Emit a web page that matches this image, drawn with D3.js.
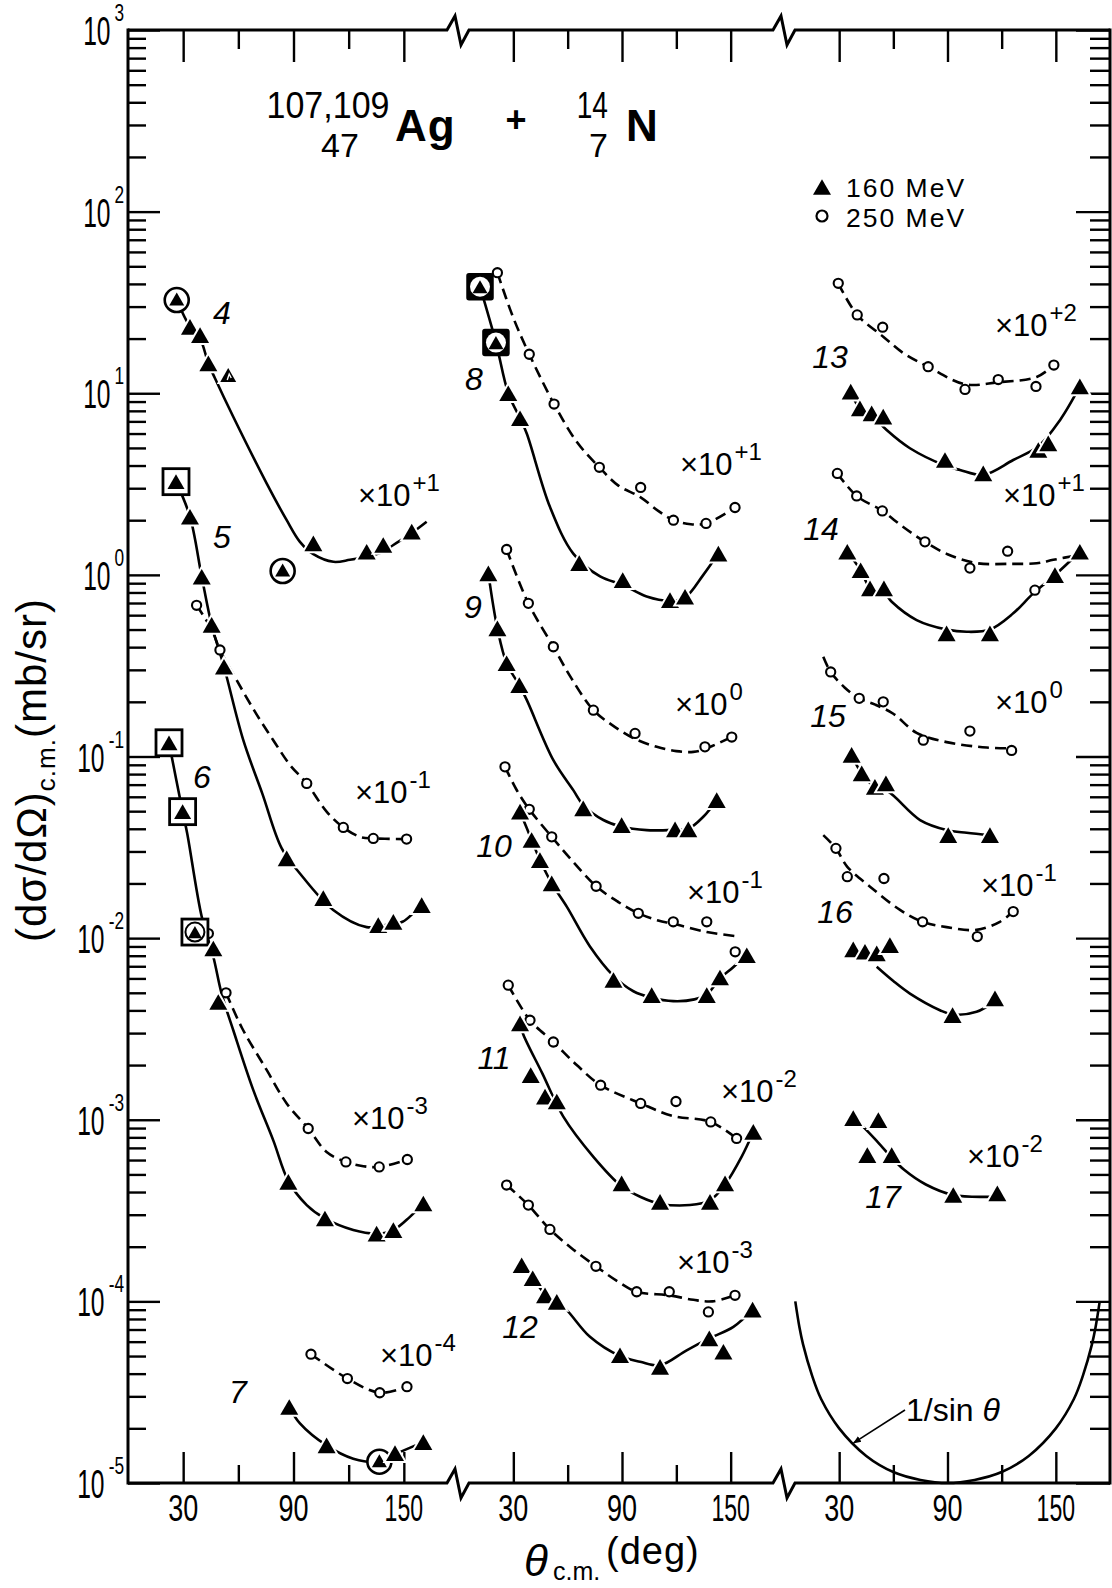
<!DOCTYPE html>
<html>
<head>
<meta charset="utf-8">
<script src="https://cdn.jsdelivr.net/npm/d3@7/dist/d3.min.js"></script>
<style>
  body { margin: 0; background: #fff; }
  svg { display: block; }
</style>
</head>
<body>
<div id="chart"></div>
<script>
// ---------- data (angles in deg c.m., cross sections in mb/sr, already scaled) ----------
const angleMajor = [30, 90, 150];
const angleMinor = [60, 120];
const yExps = [-5, -4, -3, -2, -1, 0, 1, 2, 3];
const yExpLabels = ["-5", "-4", "-3", "-2", "-1", "0", "1", "2", "3"];
const curveIds = [4, 5, 6, 7, 8, 9, 10, 11, 12, 13, 14, 15, 16, 17];
const curvePanel = [0, 0, 0, 0, 1, 1, 1, 1, 1, 2, 2, 2, 2, 2];
const curveExp = ["+1", "-1", "-3", "-4", "+1", "0", "-1", "-2", "-3", "+2", "+1", "0", "-1", "-2"];
const legendLabels = ["160 MeV", "250 MeV"];

// points: [theta, value, mark]  mark: c = circled, b = boxed, bc = boxed+circled, bf = heavy box, h = hatched
const c4_160 = [[26.5, 32.6, "c"], [33.7, 23.2], [39.2, 20.9], [43.7, 14.6], [54.5, 12.6, "h"], [84.1, 1.05, "c"], [100.8, 1.49], [129.8, 1.34], [138.8, 1.46], [154.3, 1.73]];
const c4_fit160 = [[26.5, 32.6], [33.7, 23.2], [39.2, 20], [43.7, 14.6], [47.3, 12.1], [57.3, 7.4], [75.4, 3.19], [86.3, 2.0], [93.5, 1.52], [100.8, 1.3], [111.7, 1.18], [120.7, 1.21], [129.8, 1.26], [138.8, 1.34], [144.3, 1.46], [154.3, 1.7], [162.4, 1.96]];

const c5_160 = [[26.1, 3.26, "b"], [33.7, 2.09], [40.1, 0.976], [45.5, 0.53], [52.2, 0.312], [86.3, 0.0275], [106.2, 0.0166], [136.1, 0.0118], [144.3, 0.0123], [159.7, 0.0152]];
const c5_fit160 = [[26.1, 3.26], [33.7, 2.09], [40.1, 0.976], [45.5, 0.53], [52.2, 0.312], [62.7, 0.123], [73, 0.0627], [83.6, 0.0312], [93.5, 0.0227], [111.6, 0.0143], [129.8, 0.0115], [140, 0.0118], [149.3, 0.0123], [156, 0.014], [160, 0.0153]];
const c5_250 = [[37.3, 0.68], [50, 0.386], [97.2, 0.0711], [117.1, 0.0407], [133.4, 0.0354], [151.5, 0.0351]];
const c5_fit250 = [[37.3, 0.68], [45.5, 0.5], [50, 0.386], [59.1, 0.263], [70, 0.17], [79, 0.123], [88, 0.09], [97.2, 0.0711], [108, 0.0497], [117.1, 0.0407], [126.2, 0.0361], [133.4, 0.0354], [142, 0.0352], [151.5, 0.0351]];

const c6_160 = [[22.3, 0.119, "b"], [29.7, 0.0497, "b"], [36.4, 0.0108, "bc"], [46.4, 0.00877], [49.1, 0.00445], [87.2, 4.55e-4], [107.1, 2.86e-4], [135.2, 2.36e-4], [144.3, 2.47e-4], [160.6, 3.46e-4]];
const c6_fit160 = [[22.3, 0.119], [29.7, 0.0497], [32.2, 0.0377], [40.1, 0.0131], [46.4, 0.0079], [50.9, 0.00495], [57.3, 0.0031], [68.1, 0.00146], [79, 7.7e-4], [87.2, 4.6e-4], [97.2, 3.39e-4], [107.1, 2.86e-4], [122.5, 2.47e-4], [135.2, 2.36e-4], [144.3, 2.47e-4], [153.3, 2.92e-4], [160.6, 3.46e-4]];
const c6_250 = [[43.7, 0.0106], [53.3, 0.005], [98.0, 8.95e-4], [118.5, 5.86e-4], [136.6, 5.5e-4], [151.9, 6.04e-4]];
const c6_fit250 = [[53.3, 0.005], [62, 0.0032], [75.4, 0.00188], [86.3, 0.00123], [98, 8.95e-4], [108, 6.65e-4], [118.5, 5.86e-4], [128, 5.55e-4], [136.6, 5.5e-4], [151.9, 6.04e-4]];

const c7_160 = [[87.7, 2.62e-5], [108, 1.61e-5], [136.7, 1.31e-5, "c"], [145.2, 1.46e-5], [160.6, 1.68e-5]];
const c7_fit160 = [[87.7, 2.62e-5], [93.5, 2.13e-5], [108, 1.61e-5], [122.5, 1.36e-5], [136.7, 1.31e-5], [145.2, 1.44e-5], [160.6, 1.68e-5]];
const c7_250 = [[99.5, 5.12e-5], [119.3, 3.76e-5], [136.9, 3.14e-5], [151.7, 3.39e-5]];
const c7_fit250 = [[99.5, 5.12e-5], [119.3, 3.76e-5], [136.9, 3.14e-5], [151.7, 3.39e-5]];

const c8_160 = [[11.6, 38.6, "bf"], [20.4, 19.0, "bf"], [27.2, 10.0], [33.7, 7.28], [66.4, 1.16], [90.4, 0.935], [116.5, 0.726], [124.8, 0.758], [143.2, 1.31]];
const c8_fit160 = [[11.6, 38.6], [20.4, 19], [27.2, 10], [33.7, 7.28], [37.4, 6.0], [50.2, 2.37], [63.1, 1.31], [77.9, 0.98], [90.4, 0.88], [103.6, 0.76], [116.5, 0.72], [124.8, 0.75], [134.9, 1.0], [143.2, 1.31]];
const c8_250 = [[21.2, 46.1], [38.8, 16.4], [52.5, 8.72], [77.5, 3.91], [100.3, 3.03], [118.4, 2.0], [136.4, 1.92], [152.4, 2.35]];
const c8_fit250 = [[21.2, 46.1], [30, 26], [38.8, 16.4], [52.5, 8.72], [65, 5.4], [77.5, 3.91], [88, 3.1], [99.9, 2.69], [110, 2.25], [118.4, 2.0], [128, 1.9], [136.4, 1.92], [152.4, 2.35]];

const c9_160 = [[16.2, 1.02], [21.2, 0.507], [26.3, 0.326], [33.3, 0.247], [68.6, 0.0518], [89.8, 0.0419], [119.3, 0.0397], [126.6, 0.0397], [142.3, 0.0575]];
const c9_fit160 = [[16.2, 1.02], [21.2, 0.507], [26.3, 0.326], [33.3, 0.247], [37.4, 0.205], [52.1, 0.0955], [63.1, 0.0653], [68.6, 0.054], [79.7, 0.0447], [89.8, 0.041], [103.6, 0.0393], [119.3, 0.0395], [126.6, 0.04], [134.9, 0.0466], [142.3, 0.0575]];
const c9_250 = [[26.3, 1.38], [38.3, 0.697], [52.1, 0.402], [74.2, 0.18], [97.2, 0.134], [135.8, 0.113], [150.6, 0.128]];
const c9_fit250 = [[26.3, 1.38], [38.3, 0.697], [52.1, 0.402], [62, 0.27], [74.2, 0.18], [85, 0.148], [97.2, 0.125], [109.2, 0.113], [120, 0.107], [129.4, 0.106], [135.8, 0.11], [150.6, 0.128]];

const c10_160 = [[33.7, 0.0497], [40.1, 0.0347], [44.7, 0.0269], [51.2, 0.02], [85.3, 0.00588], [106.4, 0.00485], [136.8, 0.00485], [144.1, 0.00607], [158.9, 0.00805]];
const c10_fit160 = [[33.7, 0.0497], [40.1, 0.0347], [44.7, 0.0269], [51.2, 0.02], [59.5, 0.0149], [72.3, 0.009], [85.3, 0.0062], [96.3, 0.0051], [106.4, 0.0047], [118.3, 0.0045], [130, 0.0046], [136.8, 0.0049], [144.1, 0.006], [152, 0.007], [158.9, 0.0083]];
const c10_250 = [[25.4, 0.0877], [38.8, 0.0512], [51.2, 0.0361], [75.7, 0.0193], [99, 0.0137], [118.3, 0.0123], [136.8, 0.0123], [152.5, 0.00841]];
const c10_fit250 = [[25.4, 0.0877], [32, 0.065], [38.8, 0.0512], [51.2, 0.0361], [62, 0.027], [75.7, 0.0193], [88, 0.0158], [99, 0.0137], [110, 0.0125], [118.3, 0.012], [136.8, 0.0108], [155, 0.0102]];

const c11_160 = [[33.7, 0.00339], [39.6, 0.00176], [47.5, 0.00134], [54, 0.00126], [89.8, 4.46e-4], [111, 3.53e-4], [138.6, 3.53e-4], [146.9, 4.46e-4], [162.5, 8.57e-4]];
const c11_fit160 = [[33.7, 0.00339], [35.5, 0.00295], [46, 0.0018], [57.6, 0.00104], [74.2, 6.25e-4], [89.8, 4.3e-4], [100, 3.77e-4], [111, 3.45e-4], [127.5, 3.39e-4], [138.6, 3.6e-4], [146.9, 4.4e-4], [156, 6.25e-4], [162.5, 8.57e-4]];
const c11_250 = [[27.2, 0.00551], [39.2, 0.00353], [52.1, 0.00268], [78.2, 0.00155], [100.3, 0.00123], [119.8, 0.00126], [139, 9.73e-4], [153.3, 7.89e-4]];
const c11_fit250 = [[27.2, 0.00551], [39.2, 0.00353], [52.1, 0.00268], [65, 0.002], [78.2, 0.00155], [100.3, 0.00123], [118, 0.00105], [139, 9.73e-4], [153.3, 7.89e-4]];

const c12_160 = [[34.6, 1.58e-4], [40.7, 1.34e-4], [47.5, 1.08e-4], [54, 9.94e-5], [88.9, 5.05e-5], [111, 4.36e-5], [138.2, 6.25e-5], [146, 5.28e-5], [162.1, 9.01e-5]];
const c12_fit160 = [[34.6, 1.58e-4], [40.7, 1.34e-4], [47.5, 1.1e-4], [54, 9.9e-5], [59.5, 8.95e-5], [72.3, 6.38e-5], [88.9, 5.0e-5], [100, 4.65e-5], [111, 4.45e-5], [125.7, 5.38e-5], [138.2, 6.25e-5], [151.5, 7.24e-5], [162.1, 9.01e-5]];
const c12_250 = [[26.3, 4.37e-4], [38.3, 3.39e-4], [50.2, 2.49e-4], [75.6, 1.56e-4], [98.1, 1.13e-4], [116.1, 1.13e-4], [137.7, 8.75e-5], [152.4, 1.08e-4]];
const c12_fit250 = [[26.3, 4.37e-4], [38.3, 3.39e-4], [50.2, 2.49e-4], [62, 1.97e-4], [75.6, 1.56e-4], [88, 1.28e-4], [98.1, 1.13e-4], [116.1, 1.08e-4], [129.4, 1.02e-4], [140, 1.0e-4], [152.4, 1.08e-4]];

const c13_160 = [[36.4, 10.2], [41.5, 8.26], [48, 7.75], [54.4, 7.43], [88.6, 4.29], [109.8, 3.62], [140.3, 4.87], [145.8, 5.3], [163.3, 10.9]];
const c13_fit160 = [[36.4, 10.2], [41.5, 8.26], [48, 7.6], [56.3, 6.27], [69.2, 4.98], [88.6, 4.0], [96.9, 3.78], [109.8, 3.55], [126.4, 4.29], [140.3, 5.1], [152.3, 7.11], [163.3, 10.9]];
const c13_250 = [[29.5, 40.3], [40, 27], [54.1, 23.1], [79.3, 14], [99.7, 10.5], [118.1, 11.9], [139, 10.9], [148.9, 14.3]];
const c13_fit250 = [[29.5, 40.3], [40, 27], [54.4, 20.5], [66, 16.5], [79.3, 14], [99.7, 11.2], [118.1, 11.5], [139.4, 12.3], [148.9, 14.3]];

const c14_160 = [[34.5, 1.34], [41.9, 1.06], [47.1, 0.843], [54.8, 0.843], [89.5, 0.476], [113.5, 0.476], [149.5, 0.997], [163.3, 1.34]];
const c14_fit160 = [[34.5, 1.34], [41.9, 1.06], [47.1, 0.85], [54.8, 0.8], [59.1, 0.711], [72.9, 0.564], [89.5, 0.5], [100.6, 0.486], [113.5, 0.5], [126.4, 0.614], [137.5, 0.791], [149.5, 0.997], [163.3, 1.34]];
const c14_250 = [[29, 3.62], [39.7, 2.72], [53.9, 2.25], [77.5, 1.52], [102.4, 1.09], [123.3, 1.35], [138.4, 0.824]];
const c14_fit250 = [[29, 3.62], [39.7, 2.72], [53.9, 2.25], [65, 1.85], [77.5, 1.52], [90, 1.3], [106.1, 1.16], [125, 1.15], [139.4, 1.16], [148.6, 1.21], [163, 1.29]];

const c15_160 = [[36.9, 0.102], [42.5, 0.0807], [49.8, 0.0681], [55.9, 0.0711], [90.4, 0.0369], [113.5, 0.0369]];
const c15_fit160 = [[36.9, 0.102], [42.5, 0.0807], [49.8, 0.068], [57.2, 0.064], [74.8, 0.0447], [89.5, 0.0394], [100.6, 0.038], [113.5, 0.0369]];
const c15_250 = [[25.3, 0.292], [41.1, 0.209], [54.4, 0.2], [76.6, 0.123], [102.4, 0.138], [125.5, 0.108]];
const c15_fit250 = [[21.2, 0.354], [25.3, 0.292], [33, 0.24], [41.1, 0.209], [50, 0.193], [60, 0.172], [72.9, 0.135], [89.5, 0.12], [111.7, 0.112], [125.5, 0.111]];

const c16_160 = [[37.8, 0.00867], [44.3, 0.00841], [50.8, 0.00824], [58.1, 0.00915], [92.8, 0.00377], [116.3, 0.00466]];
const c16_fit160 = [[50.8, 0.00695], [60, 0.0058], [69.2, 0.00495], [85.8, 0.00401], [92.8, 0.0038], [106.1, 0.00393], [116.3, 0.0045]];
const c16_250 = [[28.2, 0.0312], [34.5, 0.0218], [54.8, 0.0213], [76.2, 0.0123], [106.5, 0.0102], [126.4, 0.014]];
const c16_fit250 = [[21.2, 0.0369], [28.2, 0.0312], [34.5, 0.0247], [47.1, 0.0192], [63.7, 0.0143], [76.2, 0.0123], [89.5, 0.0115], [106.1, 0.0111], [119, 0.0123], [126.4, 0.014]];

const c17_160 = [[37.8, 1.02e-3], [51.7, 9.95e-4], [45.6, 6.38e-4], [59.1, 6.38e-4], [93.2, 3.85e-4], [117.6, 3.93e-4]];
const c17_fit160 = [[41.5, 9.55e-4], [50, 7.8e-4], [59.1, 6.2e-4], [66, 5.3e-4], [78, 4.4e-4], [93.2, 3.85e-4], [115.3, 3.77e-4]];

const sinRef = [[5.7, 1e-4], [8, 7.2e-5], [10, 5.8e-5], [15, 3.9e-5], [20, 2.9e-5], [30, 2.0e-5], [45, 1.41e-5], [60, 1.15e-5], [75, 1.04e-5], [90, 1.0e-5], [105, 1.04e-5], [120, 1.15e-5], [135, 1.41e-5], [150, 2.0e-5], [160, 2.9e-5], [165, 3.9e-5], [170, 5.8e-5], [172, 7.2e-5], [174.3, 1e-4]];

const pts160 = [c4_160, c5_160, c6_160, c7_160, c8_160, c9_160, c10_160, c11_160, c12_160, c13_160, c14_160, c15_160, c16_160, c17_160];
const fit160 = [c4_fit160, c5_fit160, c6_fit160, c7_fit160, c8_fit160, c9_fit160, c10_fit160, c11_fit160, c12_fit160, c13_fit160, c14_fit160, c15_fit160, c16_fit160, c17_fit160];
const pts250 = [[], c5_250, c6_250, c7_250, c8_250, c9_250, c10_250, c11_250, c12_250, c13_250, c14_250, c15_250, c16_250, []];
const fit250 = [[], c5_fit250, c6_fit250, c7_fit250, c8_fit250, c9_fit250, c10_fit250, c11_fit250, c12_fit250, c13_fit250, c14_fit250, c15_fit250, c16_fit250, []];

const series = curveIds.map((id, i) => ({
  id, panel: curvePanel[i], exp: curveExp[i],
  p160: pts160[i], f160: fit160[i], p250: pts250[i], f250: fit250[i]
}));

// ---------- layout ----------
const W = 1112, H = 1588;
const yTop = 30, yBot = 1483, xL = 128, xR = 1110;
const breaks = [459, 785];
const panelRanges = [[128, 459], [459, 785], [785, 1110]];
const sans = "'Liberation Sans', Arial, Helvetica, sans-serif";

// curve number labels and "x10^n" labels (pixel anchors)
const numPos = [[222, 313], [222, 537], [202, 777], [238, 1392], [474, 379], [473, 607], [494, 846], [494, 1058], [520, 1327], [830, 357], [821, 529], [828, 716], [835, 912], [883, 1197]];
const expPos = [[358, 506], [355, 803], [352, 1129], [380, 1366], [680, 475], [675, 715], [687, 903], [721, 1102], [677, 1273], [995, 336], [1003, 506], [995, 713], [981, 896], [967, 1167]];

const svg = d3.select("#chart").append("svg")
  .attr("width", W).attr("height", H)
  .style("font-family", sans);

svg.append("rect").attr("width", W).attr("height", H).attr("fill", "#fff");

const y = d3.scaleLog().domain([1e-5, 1e3]).range([yBot, yTop]);
const xs = panelRanges.map(r => d3.scaleLinear().domain([0, 180]).range(r));

// condensed text: draw at natural size, squeeze horizontally
function squeezed(x, yy, str, size, sx, anchor) {
  return svg.append("text")
    .attr("transform", `translate(${x},${yy}) scale(${sx},1)`)
    .attr("text-anchor", anchor || "start")
    .attr("font-size", size).text(str);
}

// ---------- frame ----------
function hAxis(yy) {
  const p = d3.path();
  p.moveTo(xL, yy);
  breaks.forEach(b => {
    p.lineTo(b - 12, yy);
    p.lineTo(b - 4, yy - 14);
    p.lineTo(b + 2, yy + 15);
    p.lineTo(b + 10, yy);
  });
  p.lineTo(xR, yy);
  return p.toString();
}
const frame = svg.append("g").attr("fill", "none").attr("stroke", "#000").attr("stroke-width", 3)
  .attr("stroke-linejoin", "miter");
frame.append("path").attr("d", hAxis(yTop));
frame.append("path").attr("d", hAxis(yBot));
frame.append("line").attr("x1", xL).attr("x2", xL).attr("y1", yTop).attr("y2", yBot).attr("stroke-linecap", "square");
frame.append("line").attr("x1", xR).attr("x2", xR).attr("y1", yTop).attr("y2", yBot).attr("stroke-linecap", "square");

// ---------- ticks ----------
const yMajor = yExps.map(e => Math.pow(10, e));
const yMinor = [];
yExps.slice(0, -1).forEach(e => d3.range(2, 10).forEach(m => yMinor.push(m * Math.pow(10, e))));

function tickGroup(axis, tx, ty) {
  svg.append("g").attr("transform", `translate(${tx},${ty})`)
    .call(axis.tickFormat("").tickSizeOuter(0))
    .call(g => g.select(".domain").remove())
    .call(g => g.selectAll("line").attr("stroke", "#000").attr("stroke-width", 2.4));
}
tickGroup(d3.axisRight(y).tickValues(yMajor).tickSize(32), xL, 0);
tickGroup(d3.axisRight(y).tickValues(yMinor).tickSize(18), xL, 0);
tickGroup(d3.axisLeft(y).tickValues(yMajor).tickSize(34), xR, 0);
tickGroup(d3.axisLeft(y).tickValues(yMinor).tickSize(20), xR, 0);

xs.forEach(x => {
  tickGroup(d3.axisBottom(x).tickValues(angleMajor).tickSize(32), 0, yTop);
  tickGroup(d3.axisBottom(x).tickValues(angleMinor).tickSize(19), 0, yTop);
  tickGroup(d3.axisTop(x).tickValues(angleMajor).tickSize(31), 0, yBot);
  tickGroup(d3.axisTop(x).tickValues(angleMinor).tickSize(18), 0, yBot);
});

// ---------- tick labels ----------
yExps.forEach((e, i) => {
  const yy = y(Math.pow(10, e));
  const sup = yExpLabels[i];
  const supW = sup.length === 1 ? 9.5 : 15.5;
  squeezed(124, yy - 9, sup, 24, 0.72, "end");
  squeezed(124 - supW - 4, yy + 15, "10", 41, 0.6, "end");
});

xs.forEach(x => {
  angleMajor.forEach(v => squeezed(x(v), yBot + 38, String(v), 36, String(v).length === 3 ? 0.64 : 0.75, "middle"));
});

// ---------- axis titles ----------
const yt = svg.append("text").attr("transform", "translate(46,770) rotate(-90)")
  .attr("text-anchor", "middle").attr("font-size", 42).attr("letter-spacing", 1);
yt.append("tspan").text("(dσ/dΩ)");
yt.append("tspan").attr("font-size", 26).attr("dy", 9).text("c.m.");
yt.append("tspan").attr("dy", -9).text("(mb/sr)");

svg.append("text").attr("x", 524).attr("y", 1576).attr("font-size", 44).attr("font-style", "italic").text("θ");
svg.append("text").attr("x", 553).attr("y", 1580).attr("font-size", 25).text("c.m.");
svg.append("text").attr("x", 606).attr("y", 1564).attr("font-size", 38).attr("letter-spacing", 1).text("(deg)");

// ---------- title ----------
squeezed(328, 118, "107,109", 37, 0.92, "middle");
squeezed(340, 157, "47", 34, 1, "middle");
svg.append("text").attr("x", 395).attr("y", 141).attr("font-size", 44).attr("font-weight", "bold")
  .attr("letter-spacing", 1).text("Ag");
svg.append("text").attr("x", 516).attr("y", 132).attr("text-anchor", "middle").attr("font-size", 36)
  .attr("font-weight", "bold").text("+");
squeezed(608, 118, "14", 37, 0.76, "end");
squeezed(608, 157, "7", 34, 1, "end");
svg.append("text").attr("x", 626).attr("y", 141).attr("font-size", 44).attr("font-weight", "bold").text("N");

// ---------- markers ----------
function triPath(w) {
  const h = w * 0.87, p = d3.path();
  p.moveTo(0, -h / 2); p.lineTo(w / 2, h / 2); p.lineTo(-w / 2, h / 2); p.closePath();
  return p.toString();
}
function drawTri(px, py, kind) {
  const m = svg.append("g").attr("transform", `translate(${px},${py})`);
  if (kind === "c") {
    m.append("circle").attr("r", 12).attr("fill", "#fff").attr("stroke", "#000").attr("stroke-width", 2.6);
    m.append("path").attr("d", triPath(15)).attr("transform", "translate(0,-1)");
  } else if (kind === "b") {
    m.append("rect").attr("x", -13).attr("y", -13).attr("width", 26).attr("height", 26)
      .attr("fill", "#fff").attr("stroke", "#000").attr("stroke-width", 2.8);
    m.append("path").attr("d", triPath(17));
  } else if (kind === "bc") {
    m.append("rect").attr("x", -13).attr("y", -13).attr("width", 26).attr("height", 26)
      .attr("fill", "#fff").attr("stroke", "#000").attr("stroke-width", 2.8);
    m.append("circle").attr("r", 9.5).attr("fill", "#fff").attr("stroke", "#000").attr("stroke-width", 2);
    m.append("path").attr("d", triPath(14));
  } else if (kind === "bf") {
    m.append("rect").attr("x", -13).attr("y", -13).attr("width", 26).attr("height", 26)
      .attr("fill", "#000").attr("stroke", "#000").attr("stroke-width", 1.5).attr("rx", 2);
    m.append("circle").attr("r", 10).attr("fill", "#fff");
    m.append("path").attr("d", triPath(15));
  } else if (kind === "h") {
    m.append("path").attr("d", triPath(16)).attr("stroke", "#fff").attr("stroke-width", 4).attr("paint-order", "stroke");
    m.append("path").attr("d", "M-1,5 L1,-1 L3,3").attr("fill", "none").attr("stroke", "#fff").attr("stroke-width", 1.4);
  } else {
    m.append("path").attr("d", triPath(18)).attr("stroke", "#fff").attr("stroke-width", 4).attr("paint-order", "stroke");
  }
}

// ---------- curves ----------
const lineFor = x => d3.line().x(d => x(d[0])).y(d => y(d[1])).curve(d3.curveCatmullRom.alpha(0.5));
const curveLayer = svg.append("g").attr("fill", "none").attr("stroke", "#000").attr("stroke-width", 2.6);

series.forEach(s => {
  const x = xs[s.panel];
  if (s.f160.length) curveLayer.append("path").attr("d", lineFor(x)(s.f160));
  if (s.f250.length) curveLayer.append("path").attr("d", lineFor(x)(s.f250)).attr("stroke-dasharray", "11,6");
});

series.forEach(s => {
  const x = xs[s.panel];
  s.p250.forEach(d => {
    svg.append("circle").attr("cx", x(d[0])).attr("cy", y(d[1])).attr("r", 4.6)
      .attr("fill", "#fff").attr("stroke", "#000").attr("stroke-width", 2.1);
  });
  s.p160.forEach(d => drawTri(x(d[0]), y(d[1]), d[2]));
});

// 1/sin theta reference
svg.append("path").attr("d", lineFor(xs[2])(sinRef))
  .attr("fill", "none").attr("stroke", "#000").attr("stroke-width", 2.6);

// ---------- annotations ----------
series.forEach((s, i) => {
  svg.append("text").attr("x", numPos[i][0]).attr("y", numPos[i][1] + 11)
    .attr("text-anchor", "middle").attr("font-size", 32).attr("font-style", "italic").text(s.id);
  const t = svg.append("text").attr("x", expPos[i][0]).attr("y", expPos[i][1]).attr("font-size", 31);
  t.append("tspan").text("×10");
  t.append("tspan").attr("dx", 2).attr("dy", -15).attr("font-size", 24).text(s.exp);
});

// legend
drawTri(822, 187, null);
svg.append("text").attr("x", 846).attr("y", 197).attr("font-size", 26.5).attr("letter-spacing", 2).text(legendLabels[0]);
svg.append("circle").attr("cx", 822).attr("cy", 216).attr("r", 5.5)
  .attr("fill", "#fff").attr("stroke", "#000").attr("stroke-width", 2.2);
svg.append("text").attr("x", 846).attr("y", 227).attr("font-size", 26.5).attr("letter-spacing", 2).text(legendLabels[1]);

// 1/sin label with arrow
svg.append("defs").append("marker").attr("id", "arr").attr("viewBox", "0 0 10 10")
  .attr("refX", 9).attr("refY", 5).attr("markerWidth", 8).attr("markerHeight", 8)
  .attr("orient", "auto").attr("markerUnits", "userSpaceOnUse")
  .append("path").attr("d", "M0,1 L10,5 L0,9 Z").attr("fill", "#000");
svg.append("line").attr("x1", 905).attr("y1", 1410)
  .attr("x2", xs[2](38)).attr("y2", y(1.62e-5) - 2)
  .attr("stroke", "#000").attr("stroke-width", 1.6).attr("marker-end", "url(#arr)");
const st = svg.append("text").attr("x", 906).attr("y", 1421).attr("font-size", 32);
st.append("tspan").text("1/sin ");
st.append("tspan").attr("font-style", "italic").text("θ");
</script>
</body>
</html>
